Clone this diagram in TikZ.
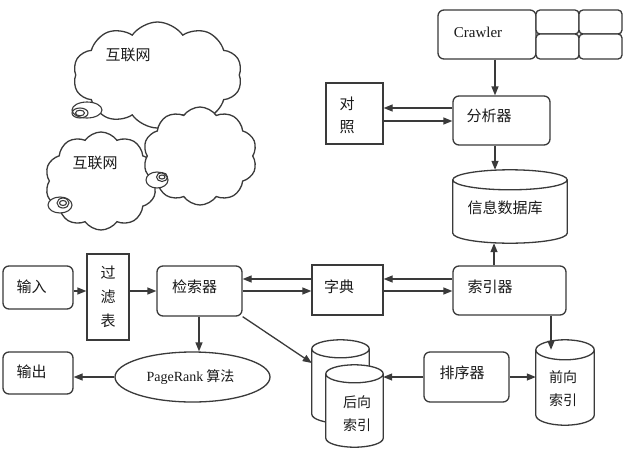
\documentclass[tikz,border=0pt]{standalone}
\usepackage{fontspec}
\setmainfont{Noto Sans CJK SC}
\newfontfamily\latinserif{Liberation Serif}
\usetikzlibrary{shapes.geometric,shapes.symbols,arrows.meta,calc,backgrounds}
\definecolor{lncol}{HTML}{3A3A3A}
\definecolor{txcol}{HTML}{1A1A1A}
\newcommand\mycyl[2]{%
  \draw[ln, fill=white] let \p1=(#1.north west), \p2=(#1.south east), \n1={(\x2-\x1)/2} in
    (\x1,\y1-#2pt) -- (\x1,\y2+#2pt)
    arc[start angle=180, end angle=360, x radius=\n1, y radius=#2pt]
    -- (\x2,\y1-#2pt)
    arc[start angle=0, end angle=180, x radius=\n1, y radius=#2pt]
    arc[start angle=180, end angle=360, x radius=\n1, y radius=#2pt];
}
\begin{document}
\begin{tikzpicture}[x=1pt,y=-1pt,
  ln/.style={draw=lncol, line width=1.3pt},
  rbox/.style={ln, rounded corners=6pt, fill=white, inner sep=0pt},
  gbox/.style={ln, rounded corners=4pt, fill=white, inner sep=0pt, minimum width=43pt},
  sbox/.style={ln, fill=white, inner sep=0pt},
  ebox/.style={ln, ellipse, fill=white, inner sep=0pt},
  cbox/.style={draw=none, inner sep=0pt},
  arr/.style={ln, -{Triangle[length=9pt,width=7pt]}},
  lbl/.style={font=\fontsize{15}{18}\selectfont, text=txcol, inner sep=0pt, align=center},
  slbl/.style={font=\fontsize{14}{23}\selectfont, text=txcol, inner sep=0pt, align=center},
  cloudshape/.style={ln, cloud, fill=white, cloud puffs=10, cloud puff arc=110, cloud ignores aspect, inner sep=0pt},
  eyeline/.style={draw=lncol, line width=1.1pt}
]
\useasboundingbox (0,0) rectangle (636,458);
\begin{pgfonlayer}{background}
\fill[white] (0,0) rectangle (636,458);
\end{pgfonlayer}

% clouds
\node[cloudshape, minimum width=169pt, minimum height=106pt,
  label={[lbl, xshift=-29.5pt, yshift=20pt]center:互联网}] (cl1) at (157.5,75) {};
\draw[eyeline, fill=white] (87,110) ellipse [x radius=15pt, y radius=8pt];
\draw[eyeline] (80,113) ellipse [x radius=8pt, y radius=5pt];
\draw[eyeline] (80,113) ellipse [x radius=4.5pt, y radius=2.8pt];

\node[cloudshape, minimum width=112pt, minimum height=98pt,
  label={[lbl, xshift=-6pt, yshift=18pt]center:互联网}] (cl2) at (101,181) {};
\draw[eyeline, fill=white] (60,205) ellipse [x radius=12pt, y radius=8pt];
\draw[eyeline] (63,203) ellipse [x radius=6pt, y radius=5pt];
\draw[eyeline] (63,203) ellipse [x radius=3.5pt, y radius=2.5pt];

\node[cloudshape, minimum width=114pt, minimum height=98pt] (cl3) at (200,156) {};
\draw[eyeline, fill=white] (157,180) ellipse [x radius=11pt, y radius=8pt];
\draw[eyeline] (162,177) ellipse [x radius=5.5pt, y radius=4.5pt];
\draw[eyeline] (162,177) ellipse [x radius=3pt, y radius=2pt];

% top part
\node[rbox, minimum width=98pt, minimum height=49pt,
  label={[lbl, font=\latinserif\fontsize{15}{18}\selectfont, xshift=-9pt, yshift=2.5pt]center:Crawler}] (crawler) at (487,34.5) {};
\node[gbox, minimum height=24pt] (g1) at (557.5,22) {};
\node[gbox, minimum height=24pt] (g2) at (600.5,22) {};
\node[gbox, minimum height=25pt] (g3) at (557.5,46.5) {};
\node[gbox, minimum height=25pt] (g4) at (600.5,46.5) {};

\node[rbox, minimum width=97pt, minimum height=49pt,
  label={[lbl, xshift=-12.5pt, yshift=4.5pt]center:分析器}] (fx) at (501.5,120.5) {};
\node[sbox, minimum width=57pt, minimum height=61pt,
  label={[lbl, font=\fontsize{15}{23}\selectfont, xshift=-7.5pt, yshift=-2pt]center:对\\照}] (dz) at (354.5,113.5) {};

\node[cbox, minimum width=114pt, minimum height=73pt,
  label={[lbl, xshift=-5pt, yshift=-1pt]center:信息数据库}] (db) at (510,206.5) {};
\begin{pgfonlayer}{background}
\mycyl{db}{10}
\end{pgfonlayer}

% middle row
\node[rbox, minimum width=113pt, minimum height=49pt,
  label={[lbl, xshift=-19.5pt, yshift=3.5pt]center:索引器}] (syq) at (509.5,290.5) {};
\node[sbox, minimum width=71pt, minimum height=50pt,
  label={[lbl, xshift=-8.5pt, yshift=3pt]center:字典}] (zd) at (347.5,290) {};
\node[rbox, minimum width=85pt, minimum height=50pt,
  label={[lbl, xshift=-5pt, yshift=4pt]center:检索器}] (jsq) at (199.5,291) {};
\node[rbox, minimum width=70pt, minimum height=43pt,
  label={[lbl, xshift=-6.5pt, yshift=0.5pt]center:输入}] (sr) at (38,287.5) {};
\node[sbox, minimum width=42pt, minimum height=86pt,
  label={[lbl, font=\fontsize{15}{24}\selectfont]center:过\\滤\\表}] (glb) at (108,297) {};

% bottom row
\node[ebox, minimum width=155pt, minimum height=50pt,
  label={[lbl, font=\fontsize{14}{18}\selectfont, xshift=-2pt]center:{\latinserif PageRank} 算法}] (pr) at (192.5,377) {};
\node[rbox, minimum width=70pt, minimum height=42pt,
  label={[lbl, xshift=-6.5pt, yshift=1pt]center:输出}] (sc) at (38,373) {};
\node[rbox, minimum width=85pt, minimum height=50pt,
  label={[lbl, xshift=-4.5pt, yshift=4pt]center:排序器}] (pxq) at (466.5,377) {};

\node[cbox, minimum width=57pt, minimum height=83pt] (hx1) at (340.5,381.5) {};
\node[cbox, minimum width=57pt, minimum height=82pt,
  label={[slbl, xshift=2.5pt, yshift=-7.5pt]center:后向\\索引}] (hx2) at (354.5,406) {};
\node[cbox, minimum width=58pt, minimum height=85pt,
  label={[slbl, xshift=-2pt, yshift=-6pt]center:前向\\索引}] (qx) at (565,382.5) {};
\begin{pgfonlayer}{background}
\mycyl{hx1}{9}
\mycyl{hx2}{9}
\mycyl{qx}{10}
\end{pgfonlayer}
\coordinate (qxin) at ($(qx.north)+(-14,10)$);

% connectors
\draw[arr] (crawler.south -| 495,0) -- (fx.north -| 495,0);
\draw[arr] (fx.west |- 0,108) -- (dz.east |- 0,108);
\draw[arr] (dz.east |- 0,121) -- (fx.west |- 0,121);
\draw[arr] (fx.south -| 495,0) -- (db.north -| 495,0);
\draw[arr] (syq.north -| 494,0) -- (db.south -| 494,0);
\draw[arr] (syq.west |- 0,279) -- (zd.east |- 0,279);
\draw[arr] (zd.east |- 0,291) -- (syq.west |- 0,291);
\draw[arr] (zd.west |- 0,279) -- (jsq.east |- 0,279);
\draw[arr] (jsq.east |- 0,291) -- (zd.west |- 0,291);
\draw[arr] (sr.east |- 0,291) -- (glb.west |- 0,291);
\draw[arr] (glb.east |- 0,291) -- (jsq.west |- 0,291);
\draw[arr] (jsq.south -| 199,0) -- (pr.north -| 199,0);
\draw[arr] (pr.west) -- (sc.east |- pr.west);
\draw[arr] (jsq.south east) -- (hx1.west |- 0,363);
\draw[arr] (pxq.west) -- (hx2.east |- pxq.west);
\draw[arr] (pxq.east) -- (qx.west |- pxq.east);
\draw[arr] (syq.south -| qxin) -- (qxin);
\end{tikzpicture}
\end{document}
